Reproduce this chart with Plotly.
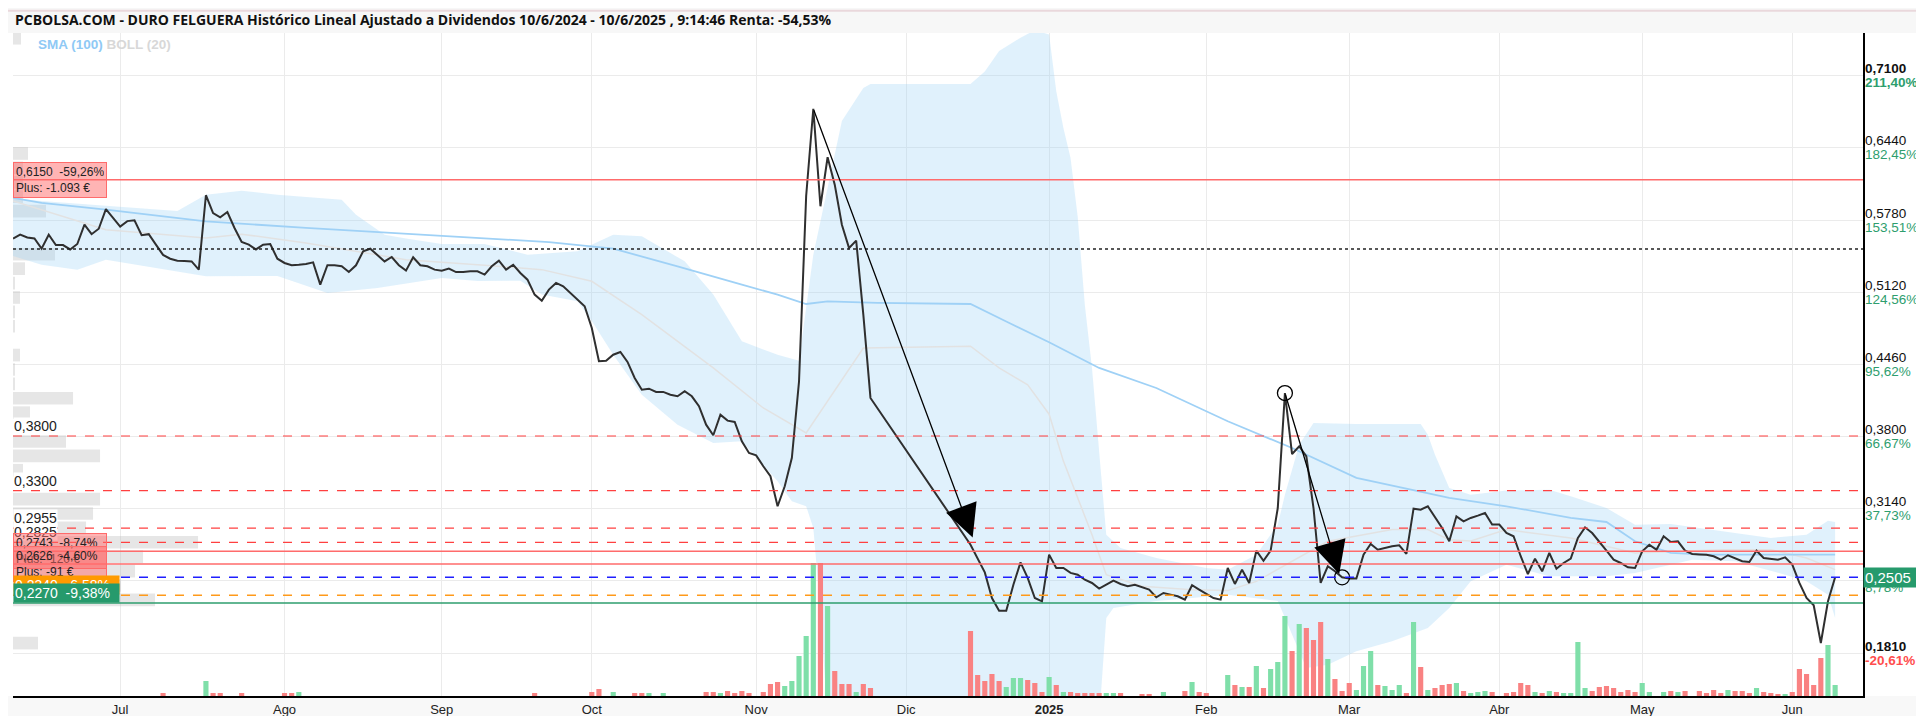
import numpy as np
import pandas as pd
import plotly.graph_objects as go

# ---------------- calendar (BME trading days) ----------------
holidays = ['2024-12-25', '2024-12-26', '2025-01-01', '2025-04-18', '2025-04-21', '2025-05-01']
dates = [d for d in pd.bdate_range('2024-06-10', '2025-06-10') if d.strftime('%Y-%m-%d') not in holidays]
idx = list(range(len(dates)))

month_labels = ['Jul', 'Ago', 'Sep', 'Oct', 'Nov', 'Dic', '<b>2025</b>', 'Feb', 'Mar', 'Abr', 'May', 'Jun']

# ---------------- price (close, EUR) ----------------
N = None
price = [
    0.561, 0.5646, 0.562, 0.561, 0.5517, 0.5645, 0.555, 0.555, 0.551, 0.556,
    0.5737, 0.565, 0.570, 0.588, 0.580, 0.572, 0.577, 0.5777, 0.564, 0.565,
    0.5554, 0.546, 0.5425, 0.5407, 0.5405, 0.540, 0.5325, 0.6007, 0.5844, 0.5805,
    0.5853, 0.5707, 0.5578, 0.5554, 0.551, 0.5554, 0.556, 0.5425, 0.5386, 0.5365,
    0.537, 0.5377, 0.5392, 0.5188, 0.5365, 0.5365, 0.5356, 0.5303, 0.5365, 0.5493,
    0.5517, 0.5457, 0.540, 0.5441, 0.5365, 0.5316, 0.5438, 0.5365, 0.5356, 0.5325,
    0.5316, 0.5334, 0.5303, 0.5303, 0.531, 0.531, 0.528, 0.5356, 0.5407, 0.5325,
    0.537, 0.5294, 0.5233, 0.5096, 0.504, 0.5142, 0.5203, 0.5172, 0.511, 0.505,
    0.4989, 0.479, 0.4485, 0.449, 0.4545, 0.457, 0.4479, 0.4332, 0.4225, 0.4234,
    0.4204, 0.4204, 0.4179, 0.4164, 0.421, 0.4164, 0.4073, 0.3904, 0.3807, 0.3996,
    0.3941, 0.3929, 0.3752, 0.3644, 0.3623, 0.3523, 0.3431, 0.3156, 0.3339, 0.360,
    0.430, 0.600, 0.680, 0.5906, 0.6355, 0.6104, 0.5737, 0.5523, 0.5591, 0.4912,
    0.4149, N, N, N, N, N, N, N, N, N,
    N, N, N, N, 0.2804, 0.268, 0.255, 0.2315, 0.2199, 0.2199,
    0.2437, 0.2642, 0.2499, 0.2315, 0.2285, 0.2713, 0.259, 0.259, 0.2545, 0.2529,
    0.2483, 0.2453, 0.2401, 0.2437, 0.2474, 0.2444, 0.2423, 0.2437, 0.2415, 0.2392,
    0.2322, 0.2361, 0.2346, 0.2331, 0.2300, 0.2432, 0.2392, 0.2352, 0.2315, 0.2300,
    0.259, 0.2444, 0.2575, 0.2453, 0.2749, 0.2657, 0.2749, 0.314, 0.4194, 0.3635,
    0.3706, 0.3614, 0.314, 0.2453, 0.2606, 0.256, 0.2505, 0.2493, 0.2493, 0.2713,
    0.281, 0.2758, 0.2774, 0.2789, 0.2798, 0.2719, 0.3134, 0.3125, 0.3156, 0.3055,
    0.2957, 0.2835, 0.3064, 0.3018, 0.3049, 0.307, 0.3094, 0.2988, 0.2988, 0.2911,
    0.2881, 0.2698, 0.2535, 0.2676, 0.256, 0.2728, 0.2584, 0.2636, 0.2676, 0.2866,
    0.2963, 0.2911, 0.2835, 0.2749, 0.2666, 0.2636, 0.2597, 0.259, 0.2743, 0.2804,
    0.2758, 0.2881, 0.2829, 0.2835, 0.2749, 0.2719, 0.2715, 0.2712, 0.2698, 0.2666,
    0.2707, 0.2682, 0.2652, 0.2645, 0.2749, 0.2682, 0.2676, 0.2666, 0.2688, 0.2621,
    0.2453, 0.2315, 0.2249, 0.1903, 0.2285, 0.2505,
]

# ---------------- volume (thousand shares) ----------------
volume = [
    0, 0, 0, 0, 0, 0, 0, 0, 0, 0,
    0, 0, 0, 0, 0, 0, 0, 0, 0, 0,
    0, 3, 0, 0, 0, 0, 0, 15, 3, 3,
    0, 0, 3, 0, 0, 0, 0, 0, 3, 3,
    4, 0, 0, 0, 0, 0, 0, 0, 0, 0,
    0, 0, 0, 0, 0, 0, 0, 0, 0, 0,
    0, 0, 0, 0, 0, 0, 0, 0, 0, 0,
    0, 0, 0, 3, 0, 0, 0, 0, 0, 0,
    0, 4, 7, 0, 4, 0, 0, 3, 3, 3,
    0, 3, 0, 0, 0, 0, 0, 4, 4, 3,
    5, 3, 5, 3, 0, 4, 12, 14, 10, 15,
    40, 60, 133, 133, 90, 25, 12, 12, 4, 12,
    8, 0, 0, 0, 0, 0, 0, 0, 0, 0,
    0, 0, 0, 0, 65, 21, 15, 22, 15, 9,
    18, 18, 16, 13, 4, 19, 11, 4, 4, 3,
    3, 3, 3, 3, 3, 3, 0, 0, 2, 2,
    0, 4, 0, 0, 5, 14, 4, 3, 0, 0,
    21, 11, 9, 9, 30, 8, 27, 34, 80, 45,
    72, 68, 56, 74, 37, 17, 5, 13, 6, 30,
    45, 11, 10, 6, 11, 3, 74, 29, 6, 8,
    11, 12, 13, 5, 3, 4, 5, 4, 0, 3,
    4, 13, 11, 4, 3, 5, 4, 3, 3, 54,
    8, 5, 9, 10, 8, 4, 6, 4, 13, 4,
    0, 4, 5, 4, 5, 0, 5, 3, 6, 3,
    6, 5, 5, 3, 8, 4, 3, 2, 2, 4,
    27, 22, 11, 38, 51, 11,
]

# ---------------- indicators ----------------
sma_idx = [0, 4, 13, 27, 41, 55, 66, 75, 84, 93, 102, 107, 111, 114, 121, 134, 139, 145, 152, 160,
           170, 179, 188, 201, 209, 218, 223, 227, 232, 237, 246, 255]
sma_val = [0.5982, 0.5936, 0.5875, 0.5768, 0.5707, 0.5652, 0.5615, 0.5578, 0.5517, 0.5356, 0.5187,
           0.5096, 0.501, 0.5035, 0.502, 0.501, 0.485, 0.466, 0.4424, 0.424, 0.3935, 0.369, 0.3416,
           0.3232, 0.3156, 0.305, 0.3012, 0.2835, 0.2728, 0.2712, 0.2712, 0.2712]

boll_up_idx = [0, 4, 13, 23, 27, 32, 37, 46, 48, 52, 55, 60, 66, 72, 79, 84, 88, 94, 98, 102, 107,
               110, 112, 114, 116, 119, 120, 134, 136, 138, 141, 143, 145, 146, 147, 148, 149, 150,
               151, 152, 153, 155, 160, 167, 170, 174, 177, 178, 180, 182, 188, 197, 198, 199, 201,
               204, 209, 215, 218, 223, 227, 232, 239, 246, 251, 254, 255]
boll_up = [0.598, 0.5954, 0.591, 0.5863, 0.6012, 0.6049, 0.6012, 0.5966, 0.5829, 0.5645, 0.561,
           0.556, 0.556, 0.5462, 0.5493, 0.5645, 0.563, 0.5401, 0.5096, 0.4668, 0.4545, 0.449,
           0.5462, 0.6073, 0.6688, 0.699, 0.7027, 0.7027, 0.714, 0.733, 0.745, 0.752, 0.748, 0.696,
           0.6623, 0.6348, 0.581, 0.50, 0.4424, 0.366, 0.2896, 0.2774, 0.2682, 0.259, 0.2575,
           0.2712, 0.2987, 0.3262, 0.372, 0.392, 0.391, 0.391, 0.3812, 0.3629, 0.3324, 0.3262,
           0.33, 0.3308, 0.3248, 0.314, 0.2987, 0.2994, 0.2927, 0.2866, 0.2896, 0.3024, 0.3012]

boll_low_idx = [0, 4, 9, 13, 27, 37, 44, 51, 60, 65, 71, 74, 79, 81, 84, 88, 93, 98, 102, 107, 109,
                111, 112, 113, 114, 120, 134, 150, 152, 153, 154, 160, 165, 170, 177, 179, 181, 184,
                188, 193, 198, 201, 204, 209, 215, 223, 227, 235, 241, 248, 251, 254, 255]
boll_low = [0.545, 0.537, 0.5325, 0.5416, 0.5264, 0.5267, 0.511, 0.5157, 0.5248, 0.522, 0.5224,
            0.5096, 0.5035, 0.4854, 0.4545, 0.4179, 0.3904, 0.3736, 0.3752, 0.3385, 0.3202, 0.3156,
            0.2957, 0.22, 0.12, 0.02, 0.02, 0.05, 0.12, 0.2132, 0.2224, 0.2288, 0.2315, 0.2346,
            0.2288, 0.198, 0.1674, 0.1704, 0.1827, 0.1918, 0.204, 0.2224, 0.2468, 0.262, 0.2514,
            0.2514, 0.2545, 0.2666, 0.2652, 0.2529, 0.2468, 0.2346, 0.2132]

boll_mid_idx = [0, 13, 27, 32, 41, 55, 66, 74, 81, 88, 98, 105, 111, 119, 134, 138, 142, 145, 147,
                151, 153, 158, 165, 170, 174, 179, 184, 193, 198, 201, 204, 209, 218, 227, 239, 246,
                251, 255]
boll_mid = [0.5954, 0.569, 0.5615, 0.565, 0.557, 0.5416, 0.5365, 0.5325, 0.5218, 0.4912, 0.4424,
            0.4057, 0.3828, 0.4607, 0.4623, 0.4424, 0.427, 0.40, 0.357, 0.2896, 0.2529, 0.2423,
            0.2392, 0.2383, 0.2468, 0.2652, 0.2835, 0.2942, 0.2942, 0.285, 0.2838, 0.2942, 0.2866,
            0.2728, 0.2758, 0.2758, 0.2682, 0.2575]

# ---------------- volume profile (by price level) ----------------
profile_price = [0.7446, 0.7314, 0.7182, 0.7050, 0.6918, 0.6786, 0.6654, 0.6522, 0.6390, 0.6258,
                 0.6126, 0.5994, 0.5862, 0.5730, 0.5598, 0.5466, 0.5334, 0.5202, 0.5070, 0.4938,
                 0.4806, 0.4674, 0.4542, 0.4410, 0.4278, 0.4146, 0.4014, 0.3882, 0.3750, 0.3618,
                 0.3486, 0.3354, 0.3222, 0.3090, 0.2958, 0.2826, 0.2694, 0.2562, 0.2430, 0.2298,
                 0.2166, 0.2034, 0.1902, 0.1770]
profile_vol = [8, 0, 0, 0, 0, 0, 0, 0, 15, 10, 10, 10, 33, 0, 0, 42, 12, 2, 7, 2,
               2, 0, 7, 2, 2, 60, 17, 0, 53, 87, 10, 0, 87, 80, 73, 185, 130, 122, 108, 142,
               0, 0, 25, 0]

# ---------------- reference lines / labels ----------------
axis_ticks = [0.7100, 0.6440, 0.5780, 0.5120, 0.4460, 0.3800, 0.3140, 0.2480, 0.1810]
axis_tick_price = ['0,7100', '0,6440', '0,5780', '0,5120', '0,4460', '0,3800', '0,3140', '0,2480', '0,1810']
axis_tick_pct = ['211,40%', '182,45%', '153,51%', '124,56%', '95,62%', '66,67%', '37,73%', '8,78%', '-20,61%']

last_price = 0.2505
alert_levels = [0.3800, 0.3300, 0.2955, 0.2825]
alert_labels = ['0,3800', '0,3300', '0,2955', '0,2825']
position_levels = [0.6150, 0.2743, 0.2626]
position_labels = ['0,6150  -59,26%<br>Plus: -1.093 €', '0,2743  -8,74%<br>Plus: -120 €',
                   '0,2626  -4,60%<br>Plus: -91 €']
avg_level = 0.5515
stop_level = 0.2340
stop_label = '0,2340  -6,58%'
target_level = 0.2270
target_label = '0,2270  -9,38%'

title_text = ('PCBOLSA.COM - DURO FELGUERA Histórico Lineal Ajustado a Dividendos '
              '10/6/2024 - 10/6/2025 , 9:14:46 Renta: -54,53%')

# ---------------- derived ----------------
month_ticks = [i for i in range(1, len(dates)) if dates[i].month != dates[i - 1].month]
vol_colors = []
prev = None
for p in price:
    if p is None:
        vol_colors.append('#7fdfa9')
        continue
    vol_colors.append('#f98282' if (prev is not None and p < prev) else '#7fdfa9')
    prev = p

X_MAX = 258.9
Y_MIN, Y_MAX = 0.1417, 0.7494
PROFILE_UNITS_PER_DAY = 7.145

GREEN = '#269a6c'
RED_LINE = '#ff6b6b'
FONT = 'Liberation Sans, Arial, sans-serif'

fig = go.Figure()

# Bollinger band
fig.add_trace(go.Scatter(x=boll_low_idx, y=boll_low, mode='lines', line=dict(width=0),
                         hoverinfo='skip', showlegend=False))
fig.add_trace(go.Scatter(x=boll_up_idx, y=boll_up, mode='lines', line=dict(width=0), fill='tonexty',
                         fillcolor='rgba(160,210,245,0.32)', hoverinfo='skip', showlegend=False))
fig.add_trace(go.Scatter(x=boll_mid_idx, y=boll_mid, mode='lines', line=dict(color='#e2e2e2', width=1.5),
                         showlegend=False))
fig.add_trace(go.Scatter(x=sma_idx, y=sma_val, mode='lines', line=dict(color='#9fd1f6', width=1.8),
                         showlegend=False))

# volume profile
fig.add_trace(go.Bar(orientation='h', y=profile_price,
                     x=[v / PROFILE_UNITS_PER_DAY for v in profile_vol], base=0, width=0.0132 * 0.88,
                     marker=dict(color='rgba(190,190,190,0.38)', line=dict(width=0)), showlegend=False))

# price
fig.add_trace(go.Scatter(x=idx, y=price, mode='lines', connectgaps=True,
                         line=dict(color='#2f2f2f', width=2), showlegend=False))

# circles (drawings)
fig.add_trace(go.Scatter(x=[178, 186], y=[price[178], price[186]], mode='markers',
                         marker=dict(symbol='circle-open', size=15, color='black', line=dict(width=1.3)),
                         showlegend=False))

# volume bars
fig.add_trace(go.Bar(x=idx, y=volume, yaxis='y2', width=0.72,
                     marker=dict(color=vol_colors, line=dict(width=0)), showlegend=False))

shapes = []
def hline(y, color, dash='solid', width=1.3):
    shapes.append(dict(type='line', xref='paper', x0=0, x1=1, yref='y', y0=y, y1=y,
                       line=dict(color=color, width=width, dash=dash), layer='above'))

hline(position_levels[0], RED_LINE, width=1.5)
hline(avg_level, '#222222', dash='dot', width=1.5)
for lv in alert_levels:
    hline(lv, '#ff4040', dash='dash', width=1.2)
for lv in position_levels[1:]:
    hline(lv, RED_LINE, width=1.5)
hline(last_price, '#1f1fff', dash='dash', width=1.4)
hline(stop_level, '#ff9a1a', dash='dash', width=1.4)
hline(target_level, '#2e9e6e', width=1.4)

# title band / bottom band / right border
shapes.append(dict(type='rect', xref='paper', yref='paper', x0=-0.01, x1=1.04, y0=1.0, y1=1.04,
                   fillcolor='#f7f7f7', line=dict(width=0), layer='below'))
shapes.append(dict(type='line', xref='paper', yref='paper', x0=-0.01, x1=1.04, y0=1.0335, y1=1.0335,
                   line=dict(color='#ead8dc', width=2), layer='below'))
shapes.append(dict(type='rect', xref='paper', yref='paper', x0=-0.01, x1=1.04, y0=-0.05, y1=0.0,
                   fillcolor='#f8f8f8', line=dict(width=0), layer='below'))
shapes.append(dict(type='line', xref='paper', yref='paper', x0=1.0346, x1=1.0346, y0=-0.05, y1=1.0,
                   line=dict(color='#e4e4e4', width=1.5), layer='below'))

ann = []
ann.append(dict(xref='paper', yref='paper', x=0, y=1.021, xanchor='left', yanchor='middle',
                text='<b>' + title_text + '</b>', showarrow=False,
                font=dict(family='Open Sans, sans-serif', size=14, color='#111')))
ann.append(dict(xref='paper', yref='paper', x=0.0123, y=0.982, xanchor='left', yanchor='middle',
                text="<b><span style='color:#8fc9f5'>SMA (100)</span> <span style='color:#d8d8d8'>BOLL (20)</span></b>",
                showarrow=False, font=dict(family=FONT, size=13.5)))

# right axis labels (price above gridline, percentage below)
for i, (v, pt, pc) in enumerate(zip(axis_ticks, axis_tick_price, axis_tick_pct)):
    col = '#ff4d4d' if pc.startswith('-') else '#2e9e6e'
    bold = i in (0, len(axis_ticks) - 1)
    ann.append(dict(xref='paper', yref='y', x=1, y=v, xanchor='left', yanchor='middle', xshift=1, yshift=7,
                    text=f'<b>{pt}</b>' if bold else pt, showarrow=False, borderpad=0,
                    font=dict(family=FONT, size=13.5, color='#111')))
    ann.append(dict(xref='paper', yref='y', x=1, y=v, xanchor='left', yanchor='middle', xshift=1, yshift=-7,
                    text=f'<b>{pc}</b>' if bold else pc, showarrow=False, borderpad=0,
                    font=dict(family=FONT, size=13.5, color=col)))

ann.append(dict(xref='paper', yref='y', x=1, y=last_price, xanchor='left', yanchor='middle', xshift=0,
                text=f'{last_price:.4f}'.replace('.', ','), showarrow=False, bgcolor=GREEN,
                width=57, height=17, align='left', font=dict(family=FONT, size=15, color='white')))

# left labels for alert levels
for lv, lb in zip(alert_levels, alert_labels):
    ann.append(dict(xref='paper', yref='y', x=0, y=lv, xanchor='left', yanchor='bottom', xshift=0, yshift=1,
                    text=lb, showarrow=False, bgcolor='white', borderpad=0,
                    font=dict(family=FONT, size=14, color='#222')))
# position boxes
for lv, lb in zip(position_levels, position_labels):
    ann.append(dict(xref='paper', yref='y', x=0, y=lv, xanchor='left', yanchor='middle',
                    text=lb, showarrow=False, align='left', bgcolor='rgba(255,105,105,0.5)',
                    bordercolor='#ff6b6b', borderwidth=1, borderpad=2, width=88,
                    font=dict(family=FONT, size=12, color='#222')))
ann.append(dict(xref='paper', yref='y', x=0, y=stop_level, xanchor='left', yanchor='bottom',
                text=stop_label, showarrow=False, align='left', bgcolor='#ff9a00', borderpad=1, width=103,
                font=dict(family=FONT, size=14, color='white')))
ann.append(dict(xref='paper', yref='y', x=0, y=target_level, xanchor='left', yanchor='bottom',
                text=target_label, showarrow=False, align='left', bgcolor=GREEN, borderpad=1, width=103,
                font=dict(family=FONT, size=14, color='white')))

# drawn trend arrows
ann.append(dict(xref='x', yref='y', axref='x', ayref='y', x=134.3, y=0.2870, ax=112, ay=price[112],
                text='', showarrow=True, arrowhead=2, arrowsize=5, arrowwidth=1.3, arrowcolor='black',
                standoff=0))
ann.append(dict(xref='x', yref='y', axref='x', ayref='y', x=185.6, y=0.2535, ax=178, ay=price[178],
                text='', showarrow=True, arrowhead=2, arrowsize=5, arrowwidth=1.3, arrowcolor='black',
                standoff=0))

fig.update_layout(
    width=1924, height=716,
    margin=dict(l=5, r=69, t=25, b=28, pad=0, autoexpand=False),
    paper_bgcolor='white', plot_bgcolor='white',
    barmode='overlay', showlegend=False,
    shapes=shapes, annotations=ann,
    xaxis=dict(range=[0, X_MAX], tickvals=month_ticks, ticktext=month_labels, showgrid=True,
               gridcolor='#ebebeb', gridwidth=1, zeroline=False, showline=True, linecolor='black',
               linewidth=2, ticks='', tickfont=dict(family=FONT, size=13, color='#222')),
    yaxis=dict(range=[Y_MIN, Y_MAX], tickvals=axis_ticks, showticklabels=False, showgrid=True,
               gridcolor='#ebebeb', zeroline=False, side='right', showline=True, linecolor='black',
               linewidth=1.5),
    yaxis2=dict(range=[0, 663], overlaying='y', visible=False),
)

fig.write_html('out.html')
